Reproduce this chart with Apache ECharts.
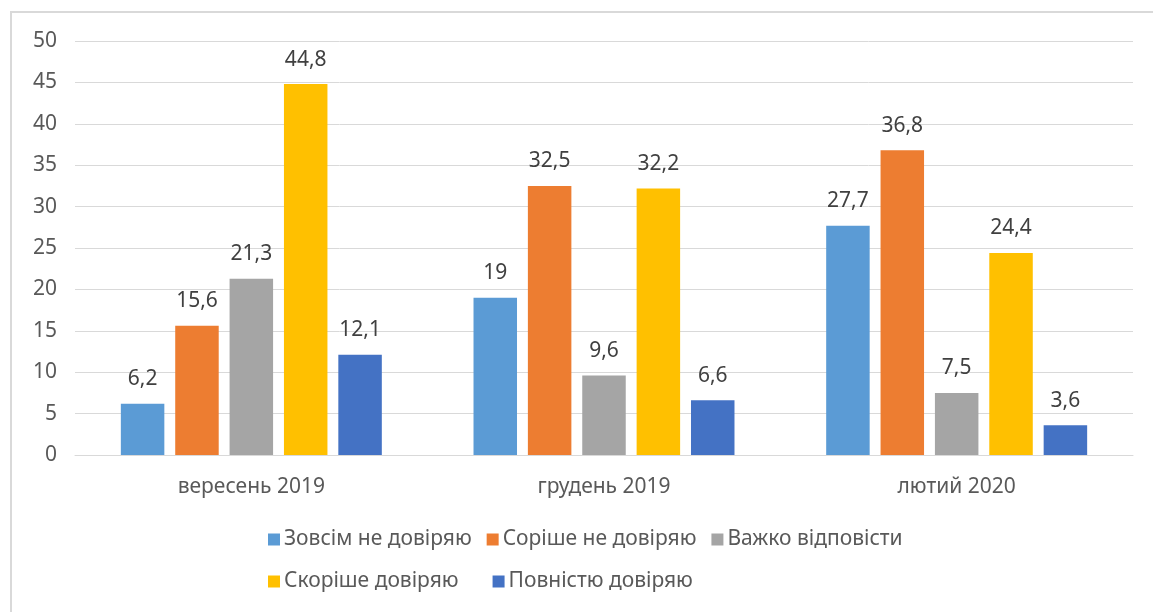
<!DOCTYPE html>
<html>
<head>
<meta charset="utf-8">
<script src="https://cdn.jsdelivr.net/npm/echarts@6/dist/echarts.min.js"></script>
<style>
  html, body { margin: 0; padding: 0; background: #fff; overflow: hidden; }
  #chart { position: absolute; left: 10px; top: 11px; width: 1143px; height: 601px; border-top: 2px solid #d9d9d9; border-left: 2px solid #d9d9d9; box-sizing: border-box; }
</style>
</head>
<body>
<div id="chart"></div>
<script>
// категорії та значення
const categories = ['вересень 2019', 'грудень 2019', 'лютий 2020'];
const seriesNames = ['Зовсім не довіряю', 'Соріше не довіряю', 'Важко відповісти', 'Скоріше довіряю', 'Повністю довіряю'];
const notTrustAtAll = [6.2, 19, 27.7];
const ratherNotTrust = [15.6, 32.5, 36.8];
const hardToSay = [21.3, 9.6, 7.5];
const ratherTrust = [44.8, 32.2, 24.4];
const fullyTrust = [12.1, 6.6, 3.6];
const colors = ['#5b9bd5', '#ed7d31', '#a5a5a5', '#ffc000', '#4472c4'];

const allValues = [notTrustAtAll, ratherNotTrust, hardToSay, ratherTrust, fullyTrust];
const font = 'Noto Sans';

// легенда у два рядки, як в оригіналі
const legendBase = {
    left: 256,
    itemWidth: 12,
    itemHeight: 12,
    itemGap: 15,
    icon: 'rect',
    padding: 0,
    textStyle: { fontFamily: font, fontSize: 21, color: '#595959', padding: [0, 0, 0, -1] }
};

let myChart = echarts.init(document.getElementById('chart'));
myChart.setOption({
    animation: false,
    color: colors,
    grid: { left: 63, right: 20, top: 28, bottom: 157, outerBoundsMode: 'none', containLabel: false },
    legend: [
        Object.assign({}, legendBase, { top: 516, data: seriesNames.slice(0, 3) }),
        Object.assign({}, legendBase, { top: 558, itemGap: 34, data: seriesNames.slice(3) })
    ],
    xAxis: {
        type: 'category',
        data: categories,
        axisLine: { lineStyle: { color: '#d9d9d9' } },
        axisTick: { show: false },
        axisLabel: { fontFamily: font, fontSize: 21, color: '#595959', margin: 22 }
    },
    yAxis: {
        type: 'value',
        min: 0,
        max: 50,
        interval: 5,
        axisLabel: { fontFamily: font, fontSize: 21, color: '#595959', margin: 18 },
        splitLine: { lineStyle: { color: '#d9d9d9' } }
    },
    series: allValues.map((vals, i) => ({
        name: seriesNames[i],
        type: 'bar',
        data: vals,
        barGap: '25%',
        barCategoryGap: '26%',
        label: {
            show: true,
            position: 'top',
            distance: 14,
            fontFamily: font,
            fontSize: 21,
            color: '#404040',
            formatter: p => String(p.value).replace('.', ',')
        }
    }))
});
</script>
</body>
</html>
